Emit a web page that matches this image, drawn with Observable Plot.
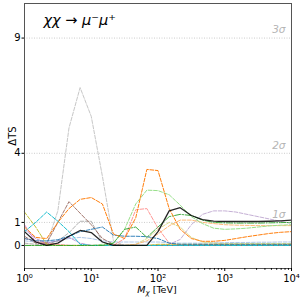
<!DOCTYPE html>
<html><head><meta charset="utf-8">
<script src="https://cdn.jsdelivr.net/npm/d3@7"></script>
<script src="https://cdn.jsdelivr.net/npm/@observablehq/plot@0.6"></script>
<style>
body{margin:0;background:#fff}
svg{font-family:"DejaVu Sans",sans-serif}
</style>
</head><body><div id="chart"></div>
<script>
// Mass grid (TeV)
const mass = [1, 1.47, 2.15, 3.16, 4.64, 6.81, 10, 14.7, 21.5, 31.6, 46.4, 68.1, 100, 147, 215, 316, 464, 681, 1000, 1468, 2154, 3162, 4642, 6813, 10000];

// ΔTS series
const tsGrayPeak   = [0,0,0.05,1.5,5.1,6.85,5.6,3.0,0.2,0,0,0,0,0,0,0,0,0,0,0,0,0,0,0,0];
const tsLightBlue  = [0.2,0.15,0.15,0.2,0.3,0.35,0.3,0.2,0.15,0.15,0.15,0.15,0.15,0.12,0.1,0.1,0.1,0.12,0.12,0.13,0.13,0.14,0.14,0.15,0.15];
const tsPurple     = [0.7,0.3,0.1,0.2,0.35,0.1,0,0,0,0,0,0,0,0,0,0,0,0,0,0,0,0,0,0,0];
const tsPink       = [0.9,0.15,0.05,0,0,0,0,0,0,0,0,0,0,0,0,0,0,0,0,0,0,0,0,0,0];
const tsLightOlive = [0,0,0,0,0,0,0,0,0,0,0.05,0.3,0.7,1.0,0.8,0.35,0.15,0.1,0.08,0.08,0.08,0.08,0.08,0.08,0.08];
const tsLavender   = [0,0,0,0,0,0,0,0,0,0,0,0,0,0.05,0.26,0.9,1.35,1.5,1.5,1.45,1.35,1.25,1.15,1.05,0.95];
const tsLightOrange= [0,0,0,0,0,0,0,0,0,0,0.05,0.2,0.5,0.85,1.1,1.1,1.0,0.95,0.9,0.88,0.87,0.86,0.86,0.86,0.86];
const tsLightRed   = [0.3,0.2,0.1,0.05,0,0,0,0,0,0.3,1.55,1.6,0.75,0.1,0.02,0.02,0.02,0.02,0.02,0.02,0.02,0.02,0.02,0.02,0.02];
const tsLightGreen = [0,0,0,0,0,0,0,0.05,0.1,0.7,1.8,2.4,2.38,2.2,1.75,1.25,0.95,0.75,0.7,0.72,0.75,0.8,0.85,0.88,0.9];
const tsGray       = [0.1,0.05,0.05,0.2,0.55,1.05,1.05,0.15,0,0,0,0,0,0,0,0,0,0,0,0,0,0,0,0,0];
const tsBrown      = [0.4,0.1,0.1,1.0,1.9,1.4,0.9,0.3,0.05,0,0,0,0,0,0,0,0,0,0,0,0,0,0,0,0];
const tsOlive      = [1.45,0.8,0.05,0,0,0,0,0,0,0,0,0,0.05,0.05,0.05,0.05,0.05,0.05,0.05,0.05,0.05,0.05,0.05,0.05,0.05];
const tsCyan       = [0.6,1.0,1.45,1.05,0.6,0.05,0,0,0,0,0,0,0,0,0,0,0,0,0,0,0,0,0,0,0];
const tsBlue       = [0.3,0.2,0.2,0.25,0.4,0.6,0.7,0.8,0.45,0.4,0.4,0.38,0.3,0.1,0.05,0.05,0.05,0.05,0.05,0.05,0.05,0.05,0.05,0.05,0.05];
const tsGreen      = [0,0,0,0,0,0,0,0,0.1,0.7,0.8,0.35,0.8,1.25,1.35,1.3,1.1,1.0,0.98,0.97,0.97,0.97,0.98,0.99,1.0];
const tsOrange     = [0.8,0.35,0.3,1.0,1.6,2.0,2.08,1.8,0.5,0.3,1.2,3.3,3.25,1.6,0.7,0.3,0.18,0.18,0.22,0.3,0.38,0.45,0.52,0.57,0.6];
const tsBlack      = [0.6,0.15,0.0,0.1,0.4,0.65,0.56,0.15,0,0,0,0,0.6,1.5,1.64,1.3,1.12,1.06,1.04,1.04,1.04,1.04,1.05,1.07,1.1];

// Reference levels and tick labels
const sigmaLevels = [1, 4, 9];
const sigmaLabels = ["1σ", "2σ", "3σ"];
const yTicks = [0, 1, 4, 9];
const xMajor = [1, 10, 100, 1000, 10000];
const xTickLabels = ["10⁰", "10¹", "10²", "10³", "10⁴"];
const xMinor = [2,3,4,5,6,7,8,9,20,30,40,50,60,70,80,90,200,300,400,500,600,700,800,900,2000,3000,4000,5000,6000,7000,8000,9000];
const titleText = ["χχ → μ⁻μ⁺"];

const dash = "3.7,1.6";
const dashDot = "6.4,1.6,1,1.6";
const series = [
  {ts: tsGrayPeak,   color: "#c7c7c7", dash: dash, w: 1, o: 1},
  {ts: tsLightBlue,  color: "#aec7e8", dash: dash, w: 1, o: 1},
  {ts: tsPurple,     color: "#9467bd", dash: dash, w: 1, o: 0.7},
  {ts: tsPink,       color: "#e377c2", dash: dash, w: 1, o: 0.9},
  {ts: tsLightOlive, color: "#dbdb8d", dash: dash, w: 1, o: 1},
  {ts: tsLavender,   color: "#c5b0d5", dash: dash, w: 1, o: 1},
  {ts: tsLightOrange,color: "#ffbb78", dash: dash, w: 1, o: 1},
  {ts: tsLightRed,   color: "#ff9896", dash: dash, w: 1, o: 1},
  {ts: tsLightGreen, color: "#98df8a", dash: dash, w: 1, o: 1},
  {ts: tsGray,       color: "#7f7f7f", dash: dash, w: 1, o: 0.6},
  {ts: tsBrown,      color: "#8c564b", dash: dash, w: 1, o: 0.8},
  {ts: tsOlive,      color: "#bcbd22", dash: dash, w: 1, o: 0.9},
  {ts: tsCyan,       color: "#17becf", dash: dash, w: 1, o: 1},
  {ts: tsBlue,       color: "#1f77b4", dash: dash, w: 1, o: 0.9},
  {ts: tsGreen,      color: "#2ca02c", dash: dashDot, w: 1, o: 0.9},
  {ts: tsOrange,     color: "#ff7f0e", dash: dash, w: 1, o: 1},
  {ts: tsBlack,      color: "#000000", dash: null, w: 1.3, o: 0.85}
];

const lineMarks = series.map(s => Plot.line(
  s.ts.map((v, i) => ({m: mass[i], ts: v})),
  {x: "m", y: "ts", stroke: s.color, strokeWidth: s.w, strokeOpacity: s.o,
   strokeDasharray: s.dash ?? undefined, curve: "linear"}
));

const chart = Plot.plot({
  width: 304, height: 299,
  marginLeft: 24, marginRight: 13, marginTop: 3, marginBottom: 31,
  x: {type: "log", domain: [1, 1e4]},
  y: {domain: [-1, 10.5]},
  style: {fontFamily: "DejaVu Sans", fontSize: "9.5px", background: "#fff", color: "#000"},
  marks: [
    Plot.ruleY(sigmaLevels, {stroke: "#cccccc", strokeDasharray: "1,1.5"}),
    ...lineMarks,
    Plot.text(sigmaLevels, {x: () => 1e4, y: d => d, text: (d, i) => sigmaLabels[i],
      textAnchor: "end", dx: -6, dy: -8, fill: "#b5b5b5", fontStyle: "italic", fontSize: 10.5}),
    Plot.text(titleText, {frameAnchor: "top-left", dx: 19, dy: 11, fontSize: 14.5, fontStyle: "italic", fill: "#000"}),
    Plot.frame({stroke: "#555"}),
    Plot.axisX({ticks: xMajor, tickFormat: d => xTickLabels[xMajor.indexOf(d)], tickSize: 3, tickPadding: 3, fontSize: 10, label: null}),
    Plot.axisX({ticks: xMinor, tickFormat: () => "", tickSize: 1.8, label: null}),
    Plot.axisY({ticks: yTicks, tickSize: 2.5, tickPadding: 1.5, fontSize: 10, label: "ΔTS", labelAnchor: "center", labelArrow: "none", labelOffset: 16})
  ]
});
document.getElementById("chart").appendChild(chart);

// x-axis label with subscript
const svg = d3.select(chart);
const lab = svg.append("text").attr("x", 157).attr("y", 293).attr("text-anchor", "middle")
  .attr("font-size", 9.5).attr("fill", "#000");
lab.append("tspan").attr("font-style", "italic").text("M");
lab.append("tspan").attr("font-style", "italic").attr("font-size", 7).attr("dy", 2).text("χ");
lab.append("tspan").attr("dy", -2).text(" [TeV]");
</script>
</body></html>
